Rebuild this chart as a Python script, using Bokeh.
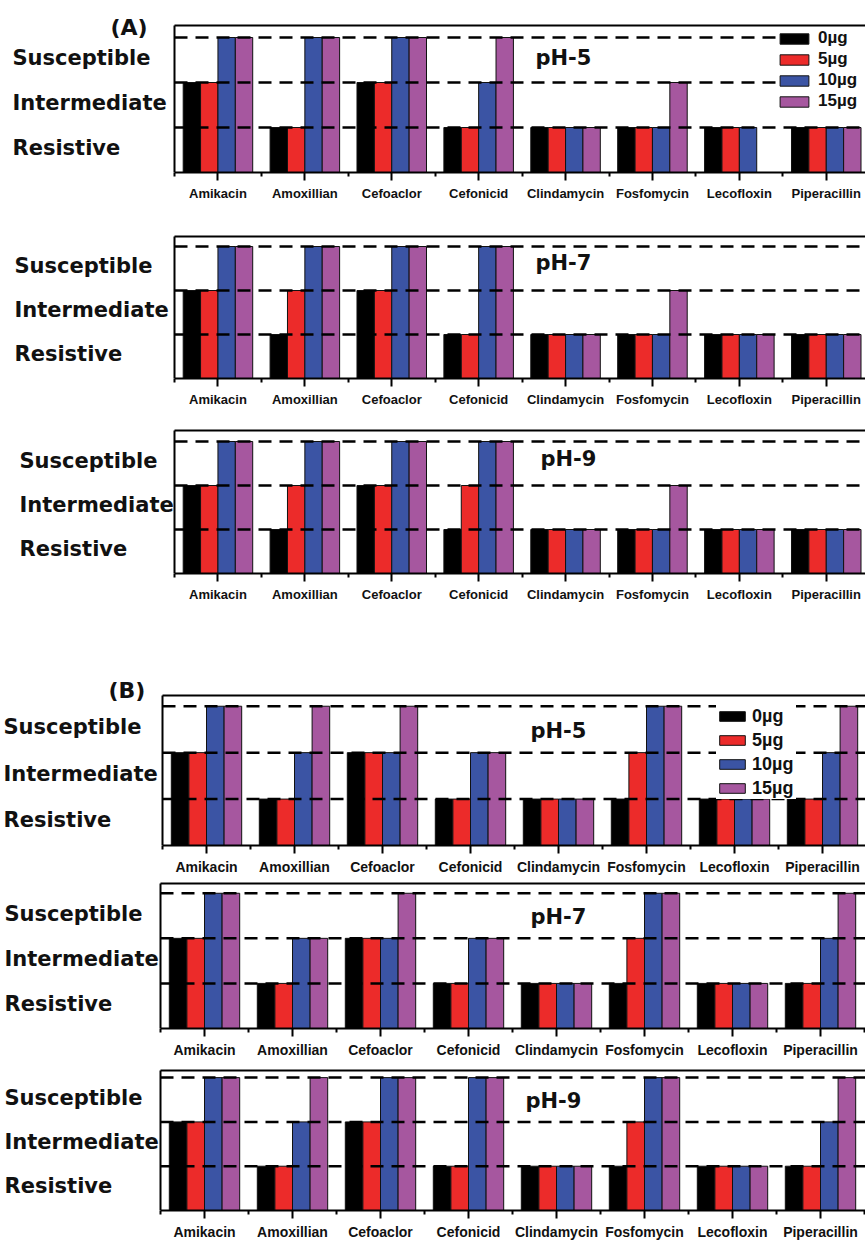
from bokeh.plotting import figure
from bokeh.models import (Range1d, FixedTicker, LinearAxis,
                          Legend, LegendItem)
from bokeh.core.properties import value
from bokeh.layouts import column
from bokeh.embed import file_html
from bokeh.resources import INLINE

# Antibiotics on the x axis
categories = ["Amikacin", "Amoxillian", "Cefoaclor", "Cefonicid",
              "Clindamycin", "Fosfomycin", "Lecofloxin", "Piperacillin"]
doses = ["0µg", "5µg", "10µg", "15µg"]
dose_colors = ["#000000", "#EC2B2A", "#3B54A4", "#A6579F"]
# response scale: 1 = Resistive, 2 = Intermediate, 3 = Susceptible, 0 = no bar
level_names = ["Resistive", "Intermediate", "Susceptible"]
level_values = [1, 2, 3]

# (A) — one list per dose (0, 5, 10, 15 µg)
a_ph5_0 = [2, 1, 2, 1, 1, 1, 1, 1]
a_ph5_5 = [2, 1, 2, 1, 1, 1, 1, 1]
a_ph5_10 = [3, 3, 3, 2, 1, 1, 1, 1]
a_ph5_15 = [3, 3, 3, 3, 1, 2, 0, 1]

a_ph7_0 = [2, 1, 2, 1, 1, 1, 1, 1]
a_ph7_5 = [2, 2, 2, 1, 1, 1, 1, 1]
a_ph7_10 = [3, 3, 3, 3, 1, 1, 1, 1]
a_ph7_15 = [3, 3, 3, 3, 1, 2, 1, 1]

a_ph9_0 = [2, 1, 2, 1, 1, 1, 1, 1]
a_ph9_5 = [2, 2, 2, 2, 1, 1, 1, 1]
a_ph9_10 = [3, 3, 3, 3, 1, 1, 1, 1]
a_ph9_15 = [3, 3, 3, 3, 1, 2, 1, 1]

# (B)
b_ph5_0 = [2, 1, 2, 1, 1, 1, 1, 1]
b_ph5_5 = [2, 1, 2, 1, 1, 2, 1, 1]
b_ph5_10 = [3, 2, 2, 2, 1, 3, 1, 2]
b_ph5_15 = [3, 3, 3, 2, 1, 3, 1, 3]

b_ph7_0 = [2, 1, 2, 1, 1, 1, 1, 1]
b_ph7_5 = [2, 1, 2, 1, 1, 2, 1, 1]
b_ph7_10 = [3, 2, 2, 2, 1, 3, 1, 2]
b_ph7_15 = [3, 2, 3, 2, 1, 3, 1, 3]

b_ph9_0 = [2, 1, 2, 1, 1, 1, 1, 1]
b_ph9_5 = [2, 1, 2, 1, 1, 2, 1, 1]
b_ph9_10 = [3, 2, 3, 3, 1, 3, 1, 2]
b_ph9_15 = [3, 3, 3, 3, 1, 3, 1, 3]

BOLD = "DejaVu Sans"
TICK_FONT = "Liberation Sans"
INK = "#111111"

# Page geometry of each panel (pixels from the page top-left):
# canvas span, baseline, top rule, y-axis x, px per level, px per category.
panels = [
    dict(series=[a_ph5_0, a_ph5_5, a_ph5_10, a_ph5_15], ph="pH-5",
         fig=(0, 212), base=172, rule=25, axis=174, uy=45.0, ux=86.9,
         name_x=12, ph_xy=(535, 57), tick_fs="13px",
         tag="(A)", tag_xy=(110, 27),
         legend=dict(x=780, y=61, gw=36, gh=13, fs="17px", lh=20, sp=1, so=6,
                     lw=46)),
    dict(series=[a_ph7_0, a_ph7_5, a_ph7_10, a_ph7_15], ph="pH-7",
         fig=(212, 415), base=378, rule=236, axis=174, uy=44.0, ux=86.9,
         name_x=14, ph_xy=(535, 262), tick_fs="13px"),
    dict(series=[a_ph9_0, a_ph9_5, a_ph9_10, a_ph9_15], ph="pH-9",
         fig=(415, 672), base=573, rule=430, axis=174, uy=44.0, ux=86.9,
         name_x=19, ph_xy=(540, 458), tick_fs="13px"),
    dict(series=[b_ph5_0, b_ph5_5, b_ph5_10, b_ph5_15], ph="pH-5",
         fig=(672, 877), base=846, rule=695, axis=162, uy=46.7, ux=88.0,
         name_x=3, ph_xy=(530, 731), tick_fs="14px",
         tag="(B)", tag_xy=(108, 690),
         legend=dict(x=720, y=46, gw=32, gh=12, fs="18px", lh=22, sp=2, so=4,
                     lw=44)),
    dict(series=[b_ph7_0, b_ph7_5, b_ph7_10, b_ph7_15], ph="pH-7",
         fig=(877, 1060), base=1031, rule=883, axis=160, uy=46.0, ux=88.0,
         name_x=4, ph_xy=(530, 917), tick_fs="14px"),
    dict(series=[b_ph9_0, b_ph9_5, b_ph9_10, b_ph9_15], ph="pH-9",
         fig=(1060, 1242), base=1212, rule=1070, axis=160, uy=44.9, ux=88.0,
         name_x=4, ph_xy=(525, 1101), tick_fs="14px"),
]

offsets = [-0.3, -0.1, 0.1, 0.3]
bar_w = 0.2
positions = list(range(1, len(categories) + 1))
WIDTH = 865
MB_LEFT = 0
MB_TOP = 4


def make_panel(spec):
    fig_top, fig_bottom = spec["fig"]
    height = fig_bottom - fig_top
    border_bottom = fig_bottom - spec["base"]
    ux, uy = spec["ux"], spec["uy"]

    frame_w = WIDTH - MB_LEFT
    x_start = 0.5 - (spec["axis"] - MB_LEFT) / ux
    x_end = x_start + frame_w / ux
    y_end = (spec["base"] - fig_top - MB_TOP) / uy
    top_level = (spec["base"] - spec["rule"]) / uy

    def px_x(px):
        return x_start + (px - MB_LEFT) / ux

    def px_y(py):
        return (spec["base"] - py) / uy

    p = figure(width=WIDTH, height=height, output_backend="svg",
               toolbar_location=None, x_range=Range1d(x_start, x_end),
               y_range=Range1d(0, y_end),
               min_border_left=MB_LEFT, min_border_right=0,
               min_border_top=MB_TOP, min_border_bottom=border_bottom,
               outline_line_color=None, background_fill_color="white",
               border_fill_color="white")
    p.xgrid.visible = False
    p.ygrid.visible = False

    renderers = []
    for vals, off, color in zip(spec["series"], offsets, dose_colors):
        xs = [x + off for x, v in zip(positions, vals) if v > 0]
        tops = [v for v in vals if v > 0]
        r = p.vbar(x=xs, top=tops, bottom=0, width=bar_w, fill_color=color,
                   line_color=INK, line_width=1)
        renderers.append(r)

    # dashed reference lines at each response level, drawn over the bars
    p.segment(x0=[0.5] * len(level_values), x1=[x_end] * len(level_values),
              y0=level_values, y1=level_values, line_color="black",
              line_width=2.5, line_dash="13 8")

    # category axis, starting at the vertical axis
    xa = p.xaxis[0]
    xa.bounds = (0.5, x_end)
    xa.ticker = FixedTicker(ticks=positions,
                            minor_ticks=[x - 0.5 for x in positions] + [positions[-1] + 0.5])
    xa.major_label_overrides = {x: c for x, c in zip(positions, categories)}
    xa.major_label_text_font = TICK_FONT
    xa.major_label_text_font_style = "bold"
    xa.major_label_text_font_size = spec["tick_fs"]
    xa.major_label_text_color = INK
    xa.major_label_standoff = 5
    xa.axis_line_width = 2
    xa.major_tick_out = 8
    xa.major_tick_in = 0
    xa.major_tick_line_width = 2
    xa.minor_tick_out = 4
    xa.minor_tick_in = 0
    xa.minor_tick_line_width = 2

    # vertical axis line, placed inside the frame so the level names fit left of it
    ya = p.yaxis[0]
    ya.fixed_location = 0.5
    ya.bounds = (0, top_level)
    ya.ticker = FixedTicker(ticks=[])
    ya.axis_line_width = 2
    ya.major_tick_out = 0
    ya.major_tick_in = 0
    ya.major_label_standoff = 0
    ya.major_label_text_font_size = "0px"

    # top rule of the panel
    top_axis = LinearAxis(ticker=FixedTicker(ticks=[]), axis_line_width=2,
                          fixed_location=top_level, bounds=(0.5, x_end),
                          major_tick_out=0, major_tick_in=0,
                          major_label_standoff=0,
                          major_label_text_font_size="0px")
    p.add_layout(top_axis, "above")

    # level names
    p.text(x=[px_x(spec["name_x"])] * 3, y=[lv - 0.45 for lv in level_values],
           text=level_names, text_font=value(BOLD), text_font_style="bold",
           text_font_size="21px", text_align="left", text_baseline="middle",
           text_color=INK)

    # pH caption
    phx, phy = spec["ph_xy"]
    p.text(x=[px_x(phx)], y=[px_y(phy)], text=[spec["ph"]],
           text_font=value(BOLD), text_font_style="bold",
           text_font_size="21px", text_align="left", text_baseline="middle",
           text_color=INK)

    if "tag" in spec:
        tx, ty = spec["tag_xy"]
        p.text(x=[px_x(tx)], y=[px_y(ty)], text=[spec["tag"]],
               text_font=value(BOLD), text_font_style="bold",
               text_font_size="22px", text_align="left", text_baseline="middle",
               text_color=INK)

    if "legend" in spec:
        lg = spec["legend"]
        items = [LegendItem(label=d, renderers=[r]) for d, r in zip(doses, renderers)]
        legend = Legend(items=items, location=(lg["x"] - MB_LEFT - 4, lg["y"]),
                        glyph_width=lg["gw"], glyph_height=lg["gh"],
                        label_text_font=TICK_FONT, label_text_font_style="bold",
                        label_text_font_size=lg["fs"], label_height=lg["lh"],
                        label_width=lg["lw"], label_text_color=INK,
                        label_standoff=lg["so"], spacing=lg["sp"], padding=0,
                        margin=0, border_line_color=None,
                        background_fill_color="white", background_fill_alpha=1)
        p.add_layout(legend)
    return p


figs = [make_panel(s) for s in panels]
layout = column(*figs, spacing=0)

open("out.html", "w").write(file_html(layout, INLINE))
